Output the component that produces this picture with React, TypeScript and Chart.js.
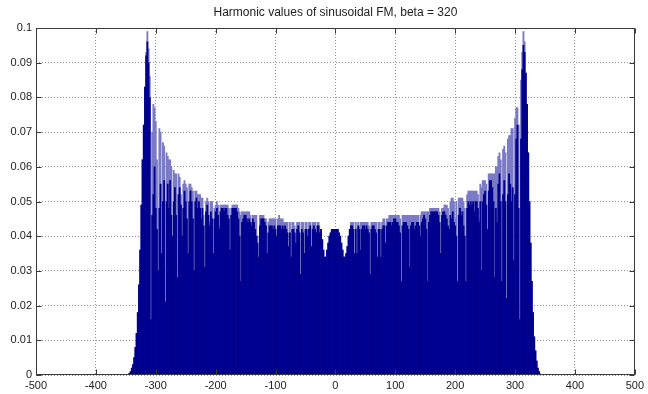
import { useEffect, useRef } from 'react';
import { Chart, registerables } from 'chart.js';

Chart.register(...registerables);

const titleText = 'Harmonic values of sinusoidal FM, beta = 320';
const xTickValues = [-500, -400, -300, -200, -100, 0, 100, 200, 300, 400, 500];
const yTickValues = [0, 0.01, 0.02, 0.03, 0.04, 0.05, 0.06, 0.07, 0.08, 0.09, 0.1];

// harmonic numbers (every second harmonic, one bar per screen column)
const harmonics: number[] = [];
for (let n = -346; n <= 346; n += 2) harmonics.push(n);

// upper (anti-aliased) level of the harmonic amplitudes
const upperValues = [
  0, 0.0005, 0.001, 0.002, 0.003, 0.005, 0.008, 0.012, 0.018, 0.026,
  0.036, 0.049, 0.062, 0.072, 0.083, 0.093, 0.099, 0.094, 0.086, 0.016,
  0.070, 0.078, 0.077, 0.073, 0.062, 0.030, 0.071, 0.070, 0.035, 0.067,
  0.066, 0.021, 0.064, 0.063, 0.062, 0.062, 0.060, 0.040, 0.059, 0.058,
  0.058, 0.028, 0.058, 0.057, 0.052, 0.040, 0.055, 0.056, 0.055, 0.054,
  0.035, 0.055, 0.055, 0.054, 0.053, 0.030, 0.053, 0.053, 0.052, 0.052,
  0.052, 0.051, 0.051, 0.046, 0.031, 0.050, 0.051, 0.050, 0.044, 0.050,
  0.050, 0.035, 0.048, 0.049, 0.050, 0.049, 0.043, 0.049, 0.049, 0.049,
  0.049, 0.049, 0.049, 0.049, 0.048, 0.036, 0.048, 0.049, 0.049, 0.049,
  0.049, 0.049, 0.048, 0.047, 0.046, 0.047, 0.047, 0.047, 0.047, 0.047,
  0.047, 0.047, 0.046, 0.044, 0.046, 0.046, 0.046, 0.046, 0.040, 0.034,
  0.046, 0.046, 0.046, 0.046, 0.045, 0.045, 0.035, 0.044, 0.045, 0.045,
  0.045, 0.045, 0.045, 0.045, 0.040, 0.045, 0.046, 0.045, 0.045, 0.045,
  0.044, 0.044, 0.044, 0.044, 0.037, 0.044, 0.034, 0.044, 0.044, 0.043,
  0.038, 0.044, 0.044, 0.044, 0.029, 0.044, 0.044, 0.035, 0.044, 0.044,
  0.040, 0.044, 0.044, 0.037, 0.044, 0.044, 0.044, 0.041, 0.044, 0.044,
  0.041, 0.042, 0.039, 0.036, 0.034, 0.034, 0.036, 0.038, 0.040, 0.041,
  0.042, 0.042, 0.042, 0.042, 0.042, 0.042, 0.041, 0.040, 0.038, 0.036,
  0.034, 0.034, 0.035, 0.037, 0.040, 0.042, 0.044, 0.044, 0.044, 0.035,
  0.044, 0.035, 0.044, 0.043, 0.044, 0.044, 0.044, 0.044, 0.044, 0.044,
  0.044, 0.043, 0.029, 0.044, 0.044, 0.044, 0.044, 0.044, 0.034, 0.044,
  0.044, 0.034, 0.044, 0.045, 0.045, 0.038, 0.045, 0.045, 0.046, 0.046,
  0.046, 0.046, 0.046, 0.046, 0.046, 0.046, 0.046, 0.045, 0.027, 0.046,
  0.046, 0.046, 0.046, 0.046, 0.046, 0.046, 0.046, 0.046, 0.046, 0.046,
  0.046, 0.046, 0.046, 0.043, 0.046, 0.047, 0.047, 0.047, 0.047, 0.047,
  0.047, 0.047, 0.048, 0.048, 0.048, 0.048, 0.048, 0.048, 0.048, 0.048,
  0.047, 0.035, 0.048, 0.048, 0.049, 0.049, 0.049, 0.048, 0.042, 0.050,
  0.051, 0.051, 0.050, 0.045, 0.050, 0.027, 0.051, 0.051, 0.051, 0.051,
  0.050, 0.048, 0.027, 0.052, 0.053, 0.053, 0.053, 0.053, 0.053, 0.053,
  0.053, 0.053, 0.052, 0.045, 0.055, 0.054, 0.056, 0.056, 0.056, 0.055,
  0.042, 0.058, 0.058, 0.058, 0.058, 0.058, 0.058, 0.060, 0.060, 0.063,
  0.064, 0.062, 0.027, 0.065, 0.066, 0.064, 0.022, 0.068, 0.069, 0.069,
  0.071, 0.071, 0.033, 0.074, 0.077, 0.077, 0.072, 0.016, 0.085, 0.093,
  0.099, 0.096, 0.087, 0.078, 0.064, 0.050, 0.038, 0.027, 0.018, 0.011,
  0.007, 0.004, 0.002, 0.001, 0.0003, 0, 0,
];

// solid (fully covered) level of the harmonic amplitudes
const solidValues = [
  0, 0.0005, 0.001, 0.002, 0.003, 0.005, 0.008, 0.012, 0.018, 0.026,
  0.036, 0.049, 0.062, 0.072, 0.083, 0.092, 0.096, 0.090, 0.080, 0.016,
  0.046, 0.052, 0.060, 0.048, 0.042, 0.030, 0.048, 0.055, 0.035, 0.050,
  0.056, 0.021, 0.050, 0.055, 0.048, 0.056, 0.046, 0.040, 0.050, 0.054,
  0.046, 0.028, 0.052, 0.054, 0.049, 0.040, 0.048, 0.053, 0.050, 0.045,
  0.035, 0.050, 0.053, 0.050, 0.045, 0.030, 0.050, 0.051, 0.048, 0.050,
  0.048, 0.045, 0.048, 0.043, 0.031, 0.047, 0.049, 0.046, 0.043, 0.047,
  0.045, 0.035, 0.045, 0.047, 0.048, 0.046, 0.042, 0.047, 0.048, 0.048,
  0.047, 0.048, 0.048, 0.046, 0.045, 0.036, 0.046, 0.048, 0.048, 0.048,
  0.048, 0.047, 0.045, 0.040, 0.027, 0.044, 0.045, 0.046, 0.046, 0.045,
  0.044, 0.045, 0.044, 0.043, 0.045, 0.044, 0.042, 0.040, 0.038, 0.034,
  0.043, 0.045, 0.045, 0.045, 0.044, 0.043, 0.035, 0.041, 0.043, 0.043,
  0.043, 0.042, 0.043, 0.042, 0.040, 0.043, 0.043, 0.043, 0.042, 0.043,
  0.042, 0.043, 0.042, 0.041, 0.037, 0.041, 0.034, 0.042, 0.042, 0.041,
  0.038, 0.042, 0.043, 0.041, 0.029, 0.042, 0.041, 0.035, 0.042, 0.042,
  0.040, 0.042, 0.043, 0.037, 0.042, 0.043, 0.042, 0.041, 0.043, 0.043,
  0.041, 0.042, 0.039, 0.036, 0.034, 0.034, 0.036, 0.038, 0.040, 0.041,
  0.042, 0.042, 0.042, 0.042, 0.042, 0.042, 0.041, 0.040, 0.038, 0.036,
  0.034, 0.034, 0.035, 0.037, 0.040, 0.042, 0.043, 0.043, 0.042, 0.035,
  0.042, 0.035, 0.043, 0.042, 0.036, 0.042, 0.043, 0.043, 0.042, 0.043,
  0.042, 0.041, 0.029, 0.042, 0.043, 0.043, 0.042, 0.041, 0.034, 0.042,
  0.042, 0.034, 0.042, 0.043, 0.043, 0.038, 0.043, 0.044, 0.044, 0.044,
  0.043, 0.044, 0.045, 0.045, 0.044, 0.044, 0.043, 0.041, 0.027, 0.043,
  0.044, 0.044, 0.044, 0.043, 0.042, 0.031, 0.043, 0.044, 0.044, 0.042,
  0.043, 0.044, 0.044, 0.043, 0.040, 0.044, 0.045, 0.046, 0.045, 0.042,
  0.027, 0.044, 0.046, 0.047, 0.047, 0.047, 0.047, 0.047, 0.047, 0.046,
  0.044, 0.035, 0.046, 0.047, 0.047, 0.046, 0.045, 0.043, 0.042, 0.046,
  0.045, 0.047, 0.044, 0.043, 0.040, 0.027, 0.046, 0.048, 0.046, 0.047,
  0.043, 0.040, 0.027, 0.048, 0.050, 0.049, 0.050, 0.049, 0.050, 0.047,
  0.050, 0.050, 0.048, 0.044, 0.050, 0.030, 0.050, 0.052, 0.053, 0.049,
  0.042, 0.053, 0.056, 0.056, 0.054, 0.050, 0.028, 0.048, 0.044, 0.055,
  0.058, 0.050, 0.027, 0.052, 0.056, 0.050, 0.022, 0.052, 0.058, 0.055,
  0.050, 0.054, 0.033, 0.052, 0.068, 0.072, 0.048, 0.016, 0.068, 0.088,
  0.095, 0.093, 0.087, 0.078, 0.064, 0.050, 0.038, 0.027, 0.018, 0.011,
  0.007, 0.004, 0.002, 0.001, 0.0003, 0, 0,
];

const FONT = '"Liberation Sans", "DejaVu Sans", Arial, sans-serif';

const framePlugin = {
  id: 'matlabFrame',
  afterDraw(chart: any) {
    const { ctx, chartArea: a, scales } = chart;
    ctx.save();
    ctx.strokeStyle = '#3a3a3a';
    ctx.lineWidth = 1;
    const l = Math.round(a.left) + 0.5;
    const r = Math.round(a.right) - 0.5;
    const t = Math.round(a.top) + 0.5;
    const b = Math.round(a.bottom) - 0.5;
    ctx.strokeRect(l, t, r - l, b - t);
    ctx.beginPath();
    const tl = 5;
    xTickValues.forEach((v) => {
      const px = Math.round(scales.x.getPixelForValue(v)) + 0.5;
      ctx.moveTo(px, b);
      ctx.lineTo(px, b - tl);
      ctx.moveTo(px, t);
      ctx.lineTo(px, t + tl);
    });
    yTickValues.forEach((v) => {
      const py = Math.round(scales.y.getPixelForValue(v)) + 0.5;
      ctx.moveTo(l, py);
      ctx.lineTo(l + tl, py);
      ctx.moveTo(r, py);
      ctx.lineTo(r - tl, py);
    });
    ctx.stroke();
    ctx.fillStyle = '#222';
    ctx.font = '12px ' + FONT;
    ctx.textAlign = 'center';
    ctx.textBaseline = 'middle';
    ctx.fillText(titleText, (a.left + a.right) / 2, 13);
    ctx.restore();
  },
};

export default function App() {
  const canvasRef = useRef<HTMLCanvasElement | null>(null);

  useEffect(() => {
    const canvas = canvasRef.current;
    if (!canvas) return;
    const upperData = harmonics.map((n, i) => ({ x: n, y: upperValues[i] }));
    const solidData = harmonics.map((n, i) => ({ x: n, y: solidValues[i] }));
    const chart = new Chart(canvas, {
      type: 'bar',
      data: {
        datasets: [
          {
            label: 'solid',
            data: solidData as any,
            backgroundColor: 'rgb(0,0,143)',
            borderWidth: 0,
            grouped: false,
            barPercentage: 1,
            categoryPercentage: 1,
            order: 0,
          } as any,
          {
            label: 'upper',
            data: upperData as any,
            backgroundColor: 'rgb(122,122,198)',
            borderWidth: 0,
            grouped: false,
            barPercentage: 1,
            categoryPercentage: 1,
            order: 1,
          } as any,
        ],
      },
      options: {
        responsive: false,
        animation: false,
        events: [],
        layout: { padding: { left: 0, right: 9, top: 28, bottom: 0 } },
        plugins: {
          legend: { display: false },
          tooltip: { enabled: false },
          title: { display: false },
        },
        scales: {
          x: {
            type: 'linear',
            min: -500,
            max: 500,
            offset: false,
            afterFit: (s: any) => {
              s.height = 19;
            },
            afterBuildTicks: (s: any) => {
              s.ticks = xTickValues.map((v) => ({ value: v }));
            },
            ticks: {
              autoSkip: false,
              maxRotation: 0,
              padding: 4,
              color: '#222',
              font: { family: FONT, size: 11 },
              callback: (v: any) => String(v),
            },
            grid: {
              offset: false,
              drawTicks: false,
              color: 'rgba(60,60,60,0.55)',
              lineWidth: 1,
            },
            border: { display: false, dash: [1, 2] },
          },
          y: {
            type: 'linear',
            min: 0,
            max: 0.1,
            afterFit: (s: any) => {
              s.width = 36;
            },
            afterBuildTicks: (s: any) => {
              s.ticks = yTickValues.map((v) => ({ value: v }));
            },
            ticks: {
              autoSkip: false,
              padding: 4,
              color: '#222',
              font: { family: FONT, size: 11 },
              callback: (v: any) => String(Math.round(Number(v) * 100) / 100),
            },
            grid: {
              drawTicks: false,
              color: 'rgba(60,60,60,0.55)',
              lineWidth: 1,
            },
            border: { display: false, dash: [1, 2] },
          },
        },
      } as any,
      plugins: [framePlugin],
    });
    return () => chart.destroy();
  }, []);

  return (
    <div style={{ position: 'fixed', left: 0, top: 0, width: 648, height: 394, background: '#fff' }}>
      <canvas ref={canvasRef} width={648} height={394} style={{ display: 'block', width: 648, height: 394 }} />
    </div>
  );
}
